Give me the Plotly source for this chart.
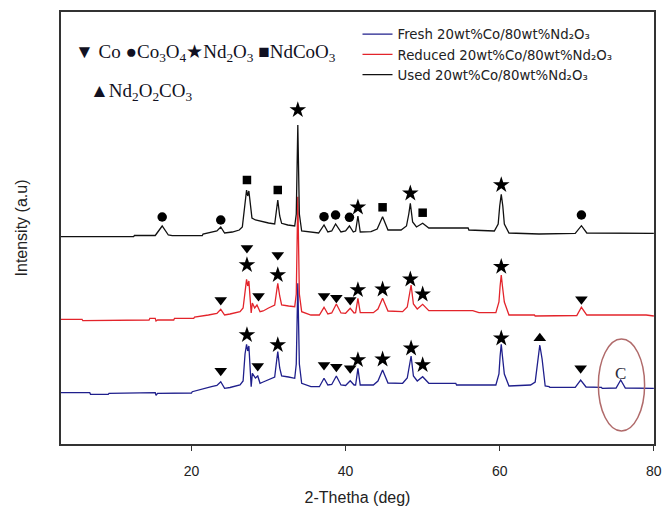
import plotly.graph_objects as go

# XRD patterns: (2-theta in degrees, intensity in a.u., curves offset vertically)
fresh_pattern = [
    (3.0, 51.3), (6.8, 51.3), (6.9, 49.7), (9.2, 49.7), (9.3, 50.7), (15.3, 51.3), (15.4, 48.7),
    (15.6, 50.7), (20.0, 51.0), (20.1, 52.3), (22.6, 57.3), (23.3, 58.5), (23.8, 62.3), (24.3, 55.7),
    (25.0, 56.5), (26.3, 59.0), (26.7, 63.0), (26.95, 90.0), (27.15, 99.7), (27.3, 93.0), (27.45, 98.0),
    (27.75, 57.3), (27.9, 70.7), (28.3, 66.0), (28.6, 68.0), (28.9, 60.7), (29.3, 62.0), (30.0, 64.0),
    (30.8, 67.0), (31.0, 80.0), (31.2, 92.3), (31.45, 76.0), (31.7, 68.0), (32.6, 67.0), (33.4, 65.7),
    (33.6, 80.0), (33.8, 160.7), (34.0, 80.0), (34.3, 60.7), (35.5, 57.3), (36.6, 57.3), (37.2, 65.7),
    (37.7, 59.0), (38.2, 59.5), (38.8, 68.0), (39.4, 59.0), (40.0, 58.5), (40.6, 63.3), (41.1, 59.0),
    (41.3, 59.0), (41.6, 75.7), (41.9, 59.0), (43.6, 59.0), (44.2, 63.0), (44.8, 74.0), (45.5, 61.0),
    (47.4, 60.7), (48.0, 66.0), (48.3, 78.0), (48.5, 88.0), (48.8, 68.0), (49.3, 63.0), (50.0, 67.3),
    (50.8, 60.7), (54.3, 60.7), (54.4, 59.0), (59.5, 59.0), (59.9, 70.0), (60.05, 88.0), (60.2, 99.7),
    (60.35, 88.0), (60.6, 70.0), (61.2, 58.0), (64.0, 59.0), (64.6, 62.0), (65.0, 85.0), (65.2, 99.0),
    (65.5, 85.0), (65.9, 58.0), (66.4, 57.5), (66.5, 56.7), (69.8, 56.7), (70.5, 64.0), (71.2, 57.0),
    (73.2, 56.7), (73.3, 55.7), (75.1, 56.0), (75.7, 64.0), (76.3, 56.0), (80.0, 55.7),
]
reduced_pattern = [
    (3.0, 124.7), (5.8, 124.7), (5.9, 123.3), (10.3, 123.3), (10.4, 124.0), (14.5, 124.0), (14.6, 125.7),
    (15.3, 125.7), (15.4, 123.0), (15.6, 124.0), (17.7, 124.0), (17.8, 125.7), (20.3, 125.7), (20.4, 127.0),
    (22.2, 129.0), (23.3, 130.5), (23.8, 134.7), (24.3, 129.0), (25.0, 130.0), (26.3, 132.3), (26.7, 136.0),
    (26.95, 155.0), (27.15, 164.7), (27.3, 158.0), (27.45, 163.0), (27.75, 131.0), (27.9, 141.0),
    (28.2, 136.0), (28.5, 139.0), (28.9, 132.3), (29.3, 133.0), (30.0, 136.0), (30.8, 139.0), (31.0, 150.0),
    (31.2, 160.7), (31.45, 148.0), (31.7, 139.0), (32.6, 138.0), (33.4, 137.3), (33.6, 150.0), (33.8, 247.3),
    (34.0, 150.0), (34.3, 132.3), (35.5, 129.0), (36.6, 129.0), (37.2, 136.7), (37.7, 130.0), (38.2, 131.0),
    (38.8, 140.0), (39.4, 131.0), (40.0, 130.7), (40.6, 135.7), (41.1, 131.0), (41.3, 131.3), (41.6, 145.7),
    (41.9, 131.3), (43.6, 131.3), (44.2, 135.0), (44.8, 145.7), (45.5, 133.0), (47.4, 132.3), (48.0, 137.0),
    (48.3, 150.0), (48.5, 159.0), (48.8, 140.0), (49.3, 135.0), (50.0, 139.7), (50.8, 133.3), (56.5, 133.3),
    (57.3, 131.3), (59.5, 131.3), (59.9, 142.0), (60.05, 158.0), (60.2, 169.0), (60.35, 158.0), (60.6, 142.0),
    (61.2, 129.0), (64.5, 129.0), (64.6, 128.0), (70.0, 128.5), (70.6, 136.7), (71.3, 129.0), (79.0, 129.0),
    (80.0, 128.0),
]
used_pattern = [
    (3.0, 207.3), (12.5, 207.3), (12.6, 208.5), (15.3, 208.5), (16.2, 218.0), (17.0, 209.0), (17.5, 208.3),
    (21.4, 208.3), (21.5, 210.0), (22.8, 212.0), (23.3, 213.0), (23.8, 217.0), (24.3, 211.0), (25.3, 212.0),
    (26.2, 214.0), (26.6, 217.0), (26.95, 244.0), (27.15, 254.0), (27.3, 248.0), (27.45, 253.0),
    (27.85, 226.0), (28.3, 224.0), (30.0, 221.0), (30.8, 220.0), (31.0, 232.0), (31.2, 244.0), (31.45, 228.0),
    (31.7, 220.7), (32.5, 219.0), (33.4, 218.0), (33.6, 230.0), (33.8, 319.0), (34.0, 230.0), (34.3, 213.0),
    (36.5, 211.0), (37.2, 219.0), (37.7, 212.0), (38.2, 213.0), (38.7, 220.0), (39.4, 212.0), (40.0, 213.0),
    (40.5, 218.0), (41.0, 212.0), (41.3, 213.0), (41.6, 228.0), (41.9, 212.0), (43.3, 212.3), (44.1, 215.0),
    (44.8, 227.3), (45.5, 214.0), (47.2, 214.0), (47.9, 218.0), (48.2, 230.0), (48.4, 240.7), (48.7, 222.0),
    (49.2, 217.0), (50.0, 220.7), (50.8, 216.0), (55.9, 216.0), (56.0, 214.0), (59.3, 213.0), (59.8, 220.0),
    (60.0, 238.0), (60.2, 249.7), (60.4, 238.0), (60.6, 220.0), (61.2, 211.0), (65.0, 210.7), (65.1, 210.0),
    (69.8, 210.7), (70.6, 218.3), (71.3, 211.0), (80.0, 210.7),
]

# Phase identification marks: (2-theta, height above the pattern)
co_marks = [(23.8, 73.3), (28.6, 78.0), (37.2, 79.0), (38.8, 77.3), (40.6, 75.7), (70.5, 75.7),
            (23.8, 144.0), (27.2, 196.0), (28.7, 148.0), (31.2, 189.0), (37.2, 148.0), (38.8, 146.3),
            (40.6, 144.0), (70.6, 144.7)]
co3o4_marks = [(16.2, 227.0), (23.8, 224.0), (37.2, 227.3), (38.7, 229.0), (40.5, 226.7), (70.6, 229.0)]
nd2o3_marks = [(27.2, 109.0), (31.2, 99.0), (41.6, 84.0), (44.8, 84.7), (48.5, 95.7), (50.0, 79.0), (60.2, 105.7),
               (27.2, 179.0), (31.2, 169.0), (41.6, 154.0), (44.8, 154.7), (48.4, 164.7), (50.0, 149.7), (60.2, 177.3),
               (33.8, 334.0), (41.6, 236.7), (48.4, 250.7), (60.2, 259.0)]
ndcoo3_marks = [(27.2, 264.0), (31.2, 254.0), (44.8, 236.7), (50.0, 231.3)]
nd2o2co3_marks = [(65.2, 105.7)]
carbon_mark = (75.7, 70.7)
carbon_region = (72.8, 78.8, 13.0, 105.0)

x_ticks = [20, 40, 60, 80]

series = [
    ("Fresh 20wt%Co/80wt%Nd₂O₃", fresh_pattern, "#1f1f8c"),
    ("Reduced 20wt%Co/80wt%Nd₂O₃", reduced_pattern, "#e3242b"),
    ("Used 20wt%Co/80wt%Nd₂O₃", used_pattern, "#111111"),
]

fig = go.Figure()
for name, pattern, color in series:
    fig.add_trace(go.Scatter(
        x=[p[0] for p in pattern], y=[p[1] for p in pattern], mode="lines", name=name,
        line=dict(color=color, width=1.3),
    ))

marks = [
    (co_marks, "triangle-down", 11),
    (co3o4_marks, "circle", 9.5),
    (nd2o3_marks, "star", 12.5),
    (ndcoo3_marks, "square", 8.5),
    (nd2o2co3_marks, "triangle-up", 11),
]
for pts, symbol, size in marks:
    fig.add_trace(go.Scatter(
        x=[p[0] for p in pts], y=[p[1] for p in pts], mode="markers", showlegend=False,
        marker=dict(symbol=symbol, size=size, color="black", line=dict(width=0)),
        hoverinfo="skip",
    ))

fig.add_annotation(x=carbon_mark[0], y=carbon_mark[1], text="C", showarrow=False,
                   font=dict(family="Liberation Serif", size=17, color="#2b2b3b"))
fig.add_shape(type="circle", xref="x", yref="y",
              x0=carbon_region[0], x1=carbon_region[1], y0=carbon_region[2], y1=carbon_region[3],
              line=dict(color="#b06a6a", width=1.5))

serif = dict(family="Liberation Serif", size=19, color="#111122")
fig.add_annotation(xref="paper", yref="paper", x=0.020, y=0.905, xanchor="left", yanchor="middle",
                   showarrow=False, font=serif,
                   text="▼ Co ●Co<sub>3</sub>O<sub>4</sub>★Nd<sub>2</sub>O<sub>3</sub> ■NdCoO<sub>3</sub>")
fig.add_annotation(xref="paper", yref="paper", x=0.046, y=0.815, xanchor="left", yanchor="middle",
                   showarrow=False, font=serif,
                   text="▲Nd<sub>2</sub>O<sub>2</sub>CO<sub>3</sub>")

fig.update_layout(
    width=672, height=516,
    margin=dict(l=61, r=10, t=12, b=72),
    paper_bgcolor="white", plot_bgcolor="white",
    font=dict(family="Liberation Sans, Arial, sans-serif", color="#222222"),
    legend=dict(x=0.50, y=0.984, xanchor="left", yanchor="top", bgcolor="rgba(0,0,0,0)",
                font=dict(family="DejaVu Sans", size=13.3, color="#222222"), tracegroupgap=0, itemwidth=30),
    xaxis=dict(range=[3.07, 80.02], tickvals=x_ticks, ticks="outside", ticklen=5, tickwidth=1.3,
               tickcolor="#333333", showline=True, linecolor="#333333", linewidth=1.5, mirror=True,
               showgrid=False, zeroline=False, tickfont=dict(size=14, color="#222222"),
               ticklabelstandoff=8,
               title=dict(text="2-Thetha (deg)", font=dict(size=16, color="#222222"), standoff=14)),
    yaxis=dict(range=[0, 432], showticklabels=False, ticks="", showline=True, linecolor="#333333",
               linewidth=1.5, mirror=True, showgrid=False, zeroline=False,
               title=dict(text="Intensity (a.u)", font=dict(size=16, color="#222222"), standoff=28)),
)

fig.write_html("out.html")
